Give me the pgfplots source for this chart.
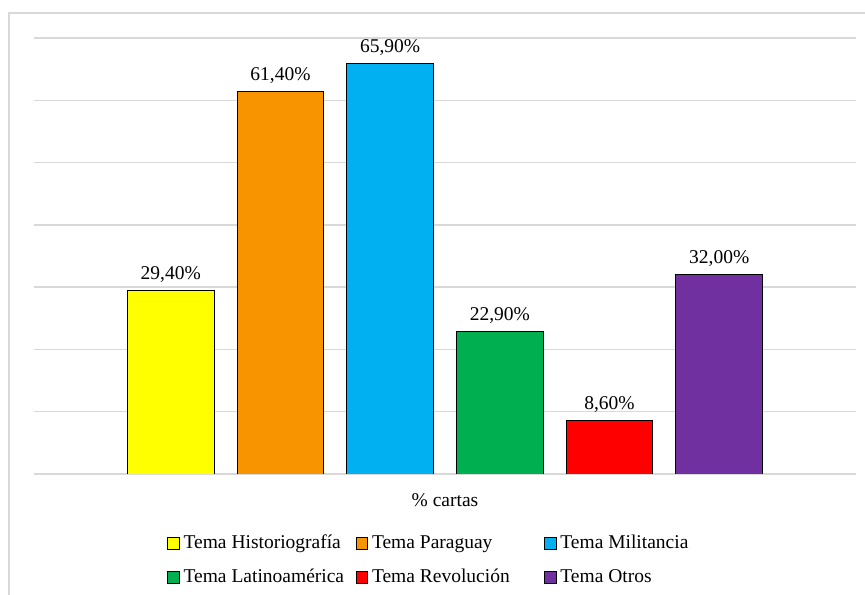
\documentclass[border=0pt]{standalone}
\usepackage{pgfplots}
\pgfplotsset{compat=1.18}
\usepackage{fontspec}
\setmainfont{Liberation Serif}
\newfontfamily\tnr{Liberation Serif}
\definecolor{gridgray}{HTML}{D9D9D9}
\definecolor{cYel}{HTML}{FFFF00}
\definecolor{cOra}{HTML}{F79400}
\definecolor{cBlu}{HTML}{00B0F0}
\definecolor{cGre}{HTML}{00B050}
\definecolor{cRed}{HTML}{FF0000}
\definecolor{cPur}{HTML}{7030A0}
\begin{document}
\tnr\fontsize{19.5bp}{23bp}\selectfont
\begin{tikzpicture}[font=\tnr\fontsize{19.5bp}{23bp}\selectfont]
\draw[color=gridgray, line width=1.3bp] (9bp,0) -- (9bp,582bp) -- (866bp,582bp);
\begin{axis}[
  at={(34bp,121bp)}, anchor=south west,
  scale only axis, width=822bp, height=436bp,
  xmin=-1, xmax=1, ymin=0, ymax=70,
  ytick={0,10,...,70}, yticklabels={}, xtick=\empty,
  ymajorgrids, grid style={gridgray, line width=1.3bp},
  axis line style={draw=none}, major tick length=0pt,
  ybar=23bp, bar width=86.7bp,
  every axis plot/.append style={draw=black, line width=0.9bp},
  point meta=y,
  nodes near coords={\pgfmathprintnumber[fixed,fixed zerofill,precision=2,use comma,assume math mode=true]{\pgfplotspointmeta}\%},
  every node near coord/.append style={anchor=base, yshift=11bp, text=black, font=\tnr\fontsize{19.5bp}{23bp}\selectfont},
  xlabel={\% cartas},
  xlabel style={at={(axis description cs:0.5,0)}, anchor=base, yshift=-32bp, font=\tnr\fontsize{19.5bp}{23bp}\selectfont},
  legend columns=3,
  legend cell align=left,
  legend image code/.code={\draw[#1, draw=black, line width=0.9bp] (0bp,-5.8bp) rectangle (11.5bp,5.8bp);},
  legend style={draw=none, fill=none, inner xsep=0pt, inner ysep=0pt,
    at={(133bp,-59bp)}, anchor=north west,
    font=\tnr\fontsize{19.5bp}{23bp}\selectfont,
    nodes={inner sep=0pt, text height=15bp, text depth=5bp},
    row sep=14.5bp,
    /tikz/every odd column/.append style={column sep=4bp},
    /tikz/every even column/.append style={column sep=0pt}},
]
\addplot[fill=cYel] coordinates {(0,29.4)};
\addlegendentry{\makebox[172bp][l]{Tema Historiografía}}
\addplot[fill=cOra] coordinates {(0,61.4)};
\addlegendentry{\makebox[172bp][l]{Tema Paraguay}}
\addplot[fill=cBlu] coordinates {(0,65.9)};
\addlegendentry{\makebox[172bp][l]{Tema Militancia}}
\addplot[fill=cGre] coordinates {(0,22.9)};
\addlegendentry{\makebox[172bp][l]{Tema Latinoamérica}}
\addplot[fill=cRed] coordinates {(0,8.6)};
\addlegendentry{\makebox[172bp][l]{Tema Revolución}}
\addplot[fill=cPur] coordinates {(0,32.0)};
\addlegendentry{\makebox[172bp][l]{Tema Otros}}
\end{axis}
\pgfresetboundingbox
\path[use as bounding box] (0,0) rectangle (865bp,595bp);
\end{tikzpicture}
\end{document}
